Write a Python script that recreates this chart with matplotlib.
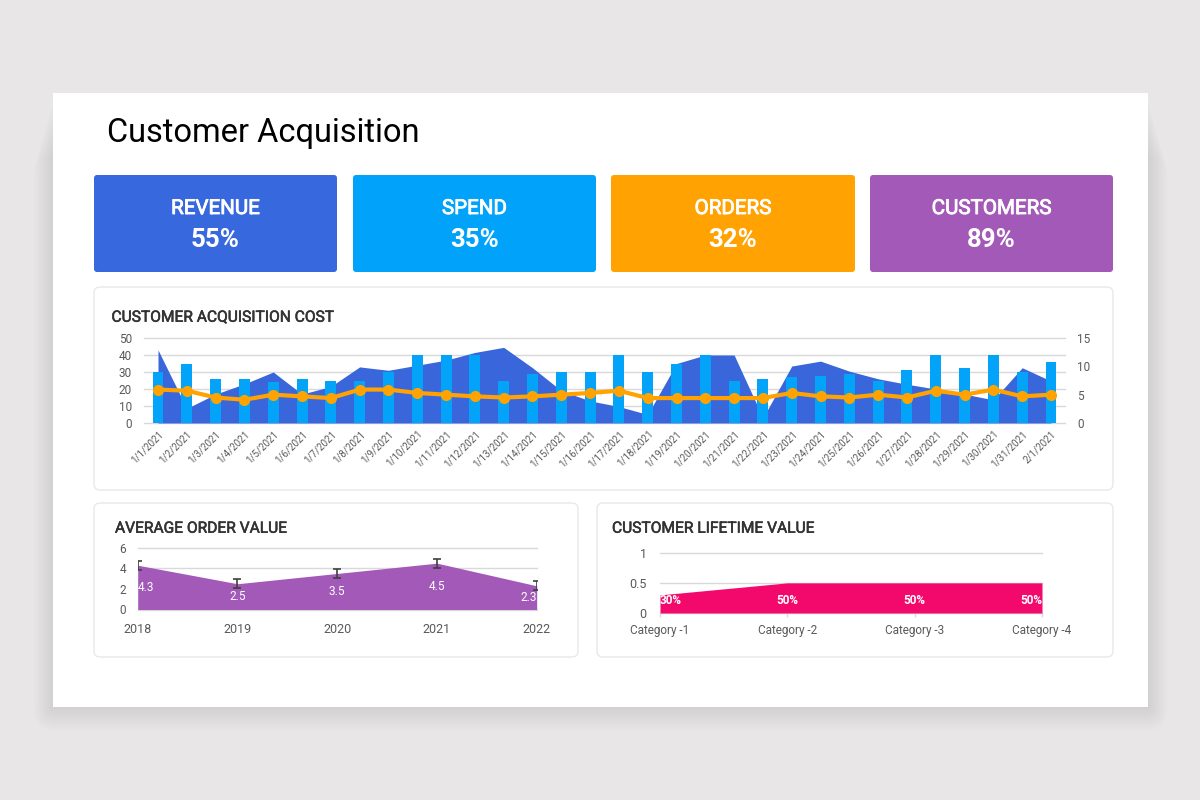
"""Customer Acquisition dashboard: KPI tiles plus three small charts."""

import matplotlib

matplotlib.use("Agg")
import matplotlib.pyplot as plt
import matplotlib.patheffects as pe
import numpy as np
from matplotlib.patches import FancyBboxPatch, Rectangle

plt.rcParams["font.family"] = ["Roboto", "DejaVu Sans"]

W, H = 1200, 800

# ---- data -------------------------------------------------------------
kpi_labels = ["REVENUE", "SPEND", "ORDERS", "CUSTOMERS"]
kpi_values = ["55%", "35%", "32%", "89%"]
kpi_colors = ["#3868DD", "#00A3F9", "#FFA202", "#A359B8"]

cac_dates = [f"1/{d}/2021" for d in range(1, 32)] + ["2/1/2021"]
cac_area = [43, 8.6, 17, 23, 30, 17, 21.5, 33, 31, 34, 37, 41.5, 44.5, 32.5, 19, 13,
            9.7, 5, 35, 40, 40, 3, 33.5, 36.4, 30.5, 26, 22.8, 20, 17, 13.6, 32.5, 24.7]
cac_bars = [30, 35, 26, 26, 24, 26, 25, 25, 30, 40, 40, 40, 25, 28.6, 30, 30,
            40, 30, 35, 40, 25, 26, 27, 27.6, 28.6, 24.7, 31, 40, 32.5, 40, 30, 35.8]
cac_line = [5.9, 5.7, 4.5, 4.1, 5.0, 4.7, 4.4, 5.9, 5.9, 5.3, 5.0, 4.7, 4.5, 4.7, 5.0, 5.3,
            5.7, 4.4, 4.4, 4.4, 4.4, 4.4, 5.3, 4.7, 4.5, 5.0, 4.5, 5.7, 5.0, 5.9, 4.7, 5.0]

aov_years = ["2018", "2019", "2020", "2021", "2022"]
aov_values = [4.3, 2.5, 3.5, 4.5, 2.3]
aov_error = 0.45

clv_categories = ["Category -1", "Category -2", "Category -3", "Category -4"]
clv_values = [0.3, 0.5, 0.5, 0.5]

TICK_COLOR = "#595959"
GRID_COLOR = "#d9d9d9"
TITLE_COLOR = "#333333"

fig = plt.figure(figsize=(W / 100, H / 100), dpi=100, facecolor="#e8e6e7")

# background canvas in pixel coordinates (y grows downwards)
bg = fig.add_axes([0, 0, 1, 1], zorder=0)
bg.set_xlim(0, W)
bg.set_ylim(H, 0)
bg.axis("off")


def medium(color, w=0.5):
    # Roboto Medium isn't installed: thicken the regular face a little
    return [pe.withStroke(linewidth=w, foreground=color)]


def card(x0, y0, x1, y1, color="white", radius=4, edge="none", shadow=0):
    for i in range(shadow, 0, -1):
        bg.add_patch(FancyBboxPatch(
            (x0 - i * 0.6, y0 + i * 0.5), x1 - x0 + i * 1.2, y1 - y0 + i * 0.9,
            boxstyle=f"round,pad=0,rounding_size={radius + i}",
            facecolor="black", edgecolor="none", alpha=0.012, zorder=1))
    bg.add_patch(FancyBboxPatch(
        (x0, y0), x1 - x0, y1 - y0, boxstyle=f"round,pad=0,rounding_size={radius}",
        facecolor=color, edgecolor=edge, linewidth=1, zorder=2))


def px_axes(x0, y0, x1, y1):
    a = fig.add_axes([x0 / W, 1 - y1 / H, (x1 - x0) / W, (y1 - y0) / H], zorder=5)
    a.patch.set_visible(False)
    for s in a.spines.values():
        s.set_visible(False)
    return a


# main white sheet with a soft shadow falling below it
for i in range(22, 0, -1):
    top = 100 + i * 2.5
    bg.add_patch(FancyBboxPatch((53 - i * 0.9, top), 1095 + i * 1.8, 707 + i * 1.1 - top,
                                boxstyle=f"round,pad=0,rounding_size={i}",
                                facecolor="black", edgecolor="none", alpha=0.0045, zorder=1))
bg.add_patch(Rectangle((53, 93), 1095, 614, facecolor="white", edgecolor="none", zorder=2))

bg.text(107, 142, "Customer Acquisition", fontsize=23.5, color="black", va="baseline", zorder=3)

# KPI tiles
tiles_x = [(94, 337), (353, 596), (611, 855), (870, 1113)]
for (x0, x1), label, value, color in zip(tiles_x, kpi_labels, kpi_values, kpi_colors):
    card(x0, 175, x1, 272, color=color, radius=3, shadow=4)
    cx = (x0 + x1) / 2
    bg.text(cx, 214, label, fontsize=14.8, color="white", ha="center", va="baseline",
            zorder=3, path_effects=medium("white", 0.6))
    bg.text(cx, 246.7, value, fontsize=18.6, fontweight="bold", color="white",
            ha="center", va="baseline", zorder=3)

# chart panels
card(94, 287, 1113, 490, radius=6, edge="#e8e8e8", shadow=4)
card(94, 503, 578, 657, radius=6, edge="#e8e8e8", shadow=4)
card(597, 503, 1113, 657, radius=6, edge="#e8e8e8", shadow=4)

panel_titles = [(111.5, 321.7, "CUSTOMER ACQUISITION COST"),
                (115, 532.7, "AVERAGE ORDER VALUE"),
                (612, 532.7, "CUSTOMER LIFETIME VALUE")]
for tx, ty, t in panel_titles:
    bg.text(tx, ty, t, fontsize=11.2, color=TITLE_COLOR, va="baseline", zorder=3,
            path_effects=medium(TITLE_COLOR, 0.4))

# ---- customer acquisition cost ----------------------------------------
ax = px_axes(143.6, 338, 1065.4, 423)
x = np.arange(len(cac_dates))
ax.fill_between(x, cac_area, color="#3A66DB", linewidth=0, zorder=2)
ax.bar(x, cac_bars, width=0.38, color="#02A3F8", zorder=3)
ax.set_xlim(-0.5, len(x) - 0.5)
ax.set_ylim(0, 50)
ax.set_yticks(range(0, 51, 10))
ax.set_axisbelow(True)
ax.yaxis.grid(True, color=GRID_COLOR, linewidth=1)
for gl in ax.get_ygridlines():
    gl.set_clip_on(False)
ax.set_xticks(x, cac_dates, rotation=45, ha="right", rotation_mode="anchor")
ax.tick_params(axis="x", length=0, pad=4, labelsize=7, labelcolor=TICK_COLOR)
ax.tick_params(axis="y", length=0, pad=8.5, labelsize=8.5, labelcolor=TICK_COLOR)

ax2 = ax.twinx()
ax2.patch.set_visible(False)
for s in ax2.spines.values():
    s.set_visible(False)
ax2.plot(x, cac_line, color="#FFA202", linewidth=3, marker="o", markersize=7, zorder=4)
ax2.set_ylim(0, 15)
ax2.set_yticks([0, 5, 10, 15])
ax2.tick_params(axis="y", length=0, pad=8.4, labelsize=8.5, labelcolor=TICK_COLOR)

# ---- average order value ----------------------------------------------
ax3 = px_axes(137.7, 547.7, 536.7, 609.5)
xa = np.arange(len(aov_years))
ax3.fill_between(xa, aov_values, color="#A259B8", linewidth=0, zorder=2)
ax3.errorbar(xa, aov_values, yerr=aov_error, fmt="none", ecolor="#404040",
             elinewidth=1.2, capsize=3, capthick=1.2, zorder=4)
ax3.set_xlim(0, len(xa) - 1)
ax3.set_ylim(0, 6)
ax3.set_yticks([0, 2, 4, 6])
ax3.set_axisbelow(True)
ax3.yaxis.grid(True, color=GRID_COLOR, linewidth=1)
for gl in ax3.get_ygridlines():
    gl.set_clip_on(False)
ax3.set_xticks(xa, aov_years)
ax3.tick_params(axis="x", length=0, pad=9.5, labelsize=9, labelcolor=TICK_COLOR)
ax3.tick_params(axis="y", length=0, pad=8.4, labelsize=8.5, labelcolor=TICK_COLOR)
for i, v in enumerate(aov_values):
    ha = "left" if i == 0 else "right" if i == len(aov_values) - 1 else "center"
    ax3.text(i, v / 2, f"{v}", color="white", fontsize=8.5, ha=ha, va="center", zorder=5)

# ---- customer lifetime value ------------------------------------------
ax4 = px_axes(660, 552.7, 1042, 613)
xc = np.arange(len(clv_categories))
ax4.fill_between(xc, clv_values, color="#F3086B", linewidth=0, zorder=2)
ax4.set_xlim(0, len(xc) - 1)
ax4.set_ylim(0, 1)
ax4.set_yticks([0, 0.5, 1], ["0", "0.5", "1"])
ax4.set_axisbelow(True)
ax4.yaxis.grid(True, color=GRID_COLOR, linewidth=1)
for gl in ax4.get_ygridlines():
    gl.set_clip_on(False)
ax4.set_xticks(xc, clv_categories)
ax4.tick_params(axis="x", length=3, width=1, color=GRID_COLOR, pad=5,
                labelsize=8.5, labelcolor=TICK_COLOR)
ax4.tick_params(axis="y", length=0, pad=9.5, labelsize=9, labelcolor=TICK_COLOR)
for i, v in enumerate(clv_values):
    ha = "left" if i == 0 else "right" if i == len(clv_values) - 1 else "center"
    ax4.text(i, 0.21, f"{v:.0%}", color="white", fontsize=8.5, fontweight="bold",
             ha=ha, va="center", zorder=5)

fig.savefig("out.png", dpi=100, facecolor=fig.get_facecolor())
